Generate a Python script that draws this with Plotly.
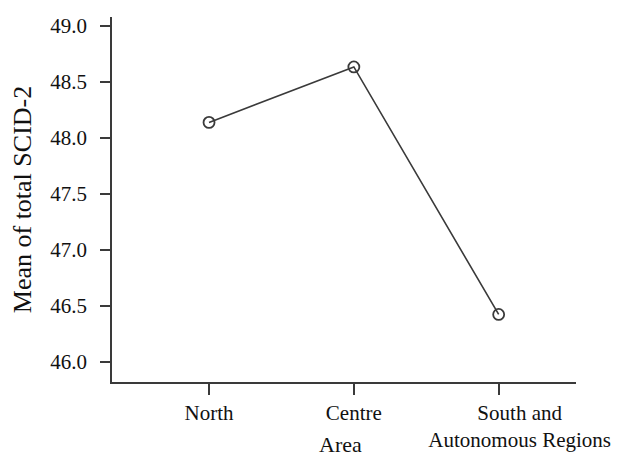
import plotly.graph_objects as go

categories = ["North", "Centre", "South and\nAutonomous Regions"]
means = [48.135, 48.63, 46.42]
y_ticks = [46.0, 46.5, 47.0, 47.5, 48.0, 48.5, 49.0]
y_tick_labels = ["46.0", "46.5", "47.0", "47.5", "48.0", "48.5", "49.0"]
x_title = "Area"
y_title = "Mean of total SCID-2"

x_pos = list(range(len(categories)))
NB = "\u00a0" * 8
tick_text = []
for c in categories:
    lines = c.split("\n")
    if len(lines) > 1:
        tick_text.append("<br>".join(NB + ln for ln in lines))
    else:
        tick_text.append(c)

fig = go.Figure()
fig.add_trace(go.Scatter(
    x=x_pos, y=means, mode="lines+markers",
    line=dict(color="#3a3a3a", width=1.6),
    marker=dict(symbol="circle-open", size=11, color="#3a3a3a", line=dict(width=1.8)),
    showlegend=False,
))

FAM = "Liberation Serif, Times New Roman, serif"
font = dict(family=FAM, color="#111", size=21)

fig.update_layout(
    width=623, height=464,
    margin=dict(l=112, r=37, t=17, b=73),
    paper_bgcolor="white", plot_bgcolor="white",
    font=font,
    xaxis=dict(
        range=[-0.67, 2.534], tickmode="array", tickvals=x_pos, ticktext=tick_text,
        tickfont=dict(family=FAM, size=21, color="#111"),
        showline=True, linecolor="#3a3a3a", linewidth=1.6,
        ticks="outside", ticklen=11, tickwidth=1.6, tickcolor="#3a3a3a",
        ticklabelstandoff=0,
        showgrid=False, zeroline=False,
    ),
    yaxis=dict(
        range=[45.817, 49.076], tickmode="array", tickvals=y_ticks, ticktext=y_tick_labels,
        tickfont=dict(family=FAM, size=21, color="#111"),
        showline=True, linecolor="#3a3a3a", linewidth=1.6,
        ticks="outside", ticklen=10, tickwidth=1.6, tickcolor="#3a3a3a",
        ticklabelstandoff=9,
        showgrid=False, zeroline=False,
        title=dict(text=y_title, font=dict(family=FAM, size=26, color="#111"), standoff=11),
    ),
    annotations=[dict(
        text=x_title, xref="paper", yref="paper", x=0.4916, y=-0.171,
        xanchor="center", yanchor="middle", showarrow=False,
        font=dict(family=FAM, size=22, color="#111"),
    )],
)

fig.write_html("out.html", config={"displayModeBar": False},
               post_script="document.body.style.margin='0';")
